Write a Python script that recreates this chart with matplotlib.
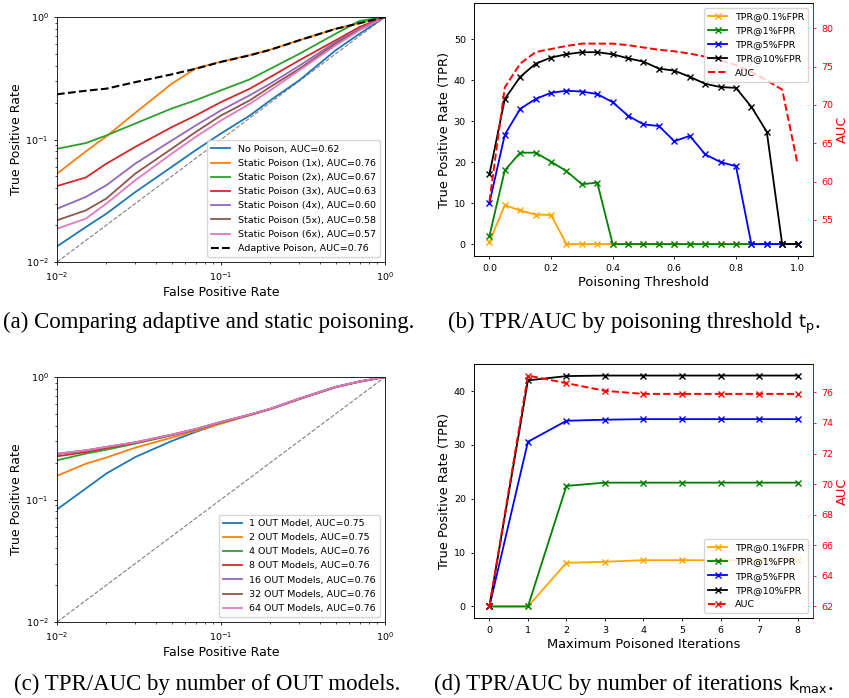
import matplotlib
import matplotlib.pyplot as plt

matplotlib.use("Agg")

W, H = 849, 698

# ---- panel (a): adaptive vs static poisoning ROC ----
fpr_grid = [0.01, 0.015, 0.02, 0.03, 0.05, 0.07, 0.1, 0.15, 0.2, 0.3, 0.5, 0.7, 1.0]
roc_a_labels = ["No Poison, AUC=0.62",
                "Static Poison (1x), AUC=0.76",
                "Static Poison (2x), AUC=0.67",
                "Static Poison (3x), AUC=0.63",
                "Static Poison (4x), AUC=0.60",
                "Static Poison (5x), AUC=0.58",
                "Static Poison (6x), AUC=0.57"]
tpr_no_poison = [0.0134, 0.0193, 0.0248, 0.0372, 0.0597, 0.0817, 0.112, 0.157, 0.209, 0.304, 0.535, 0.73, 1.0]
tpr_static_1x = [0.0526, 0.080, 0.106, 0.165, 0.285, 0.380, 0.432, 0.489, 0.542, 0.647, 0.802, 0.891, 1.0]
tpr_static_2x = [0.084, 0.0935, 0.108, 0.135, 0.179, 0.209, 0.252, 0.31, 0.378, 0.50, 0.73, 0.93, 1.0]
tpr_static_3x = [0.0417, 0.049, 0.0635, 0.087, 0.126, 0.157, 0.202, 0.26, 0.324, 0.443, 0.645, 0.83, 1.0]
tpr_static_4x = [0.0272, 0.034, 0.0423, 0.0635, 0.098, 0.13, 0.173, 0.23, 0.286, 0.40, 0.625, 0.80, 1.0]
tpr_static_5x = [0.0219, 0.0264, 0.033, 0.0526, 0.084, 0.115, 0.157, 0.209, 0.269, 0.378, 0.605, 0.79, 1.0]
tpr_static_6x = [0.0187, 0.0226, 0.030, 0.0465, 0.0765, 0.105, 0.143, 0.196, 0.252, 0.367, 0.587, 0.78, 1.0]
tpr_adaptive = [0.234, 0.25, 0.26, 0.294, 0.34, 0.378, 0.43, 0.487, 0.54, 0.645, 0.80, 0.89, 1.0]

# ---- panel (b): TPR/AUC by poisoning threshold ----
threshold = [0.0, 0.05, 0.1, 0.15, 0.2, 0.25, 0.3, 0.35, 0.4, 0.45, 0.5,
             0.55, 0.6, 0.65, 0.7, 0.75, 0.8, 0.85, 0.9, 0.95, 1.0]
b_tpr01 = [0.5, 9.5, 8.2, 7.2, 7.1, 0, 0, 0, 0, 0, 0, 0, 0, 0, 0, 0, 0, 0, 0, 0, 0]
b_tpr1 = [2.0, 18.0, 22.3, 22.3, 20.1, 17.8, 14.6, 15.0, 0, 0, 0, 0, 0, 0, 0, 0, 0, 0, 0, 0, 0]
b_tpr5 = [10.0, 26.7, 33.0, 35.4, 36.9, 37.4, 37.2, 36.6, 34.6, 31.3, 29.2,
          28.8, 25.1, 26.4, 21.9, 20.0, 19.0, 0, 0, 0, 0]
b_tpr10 = [17.0, 35.4, 40.8, 44.0, 45.5, 46.3, 46.8, 46.8, 46.3, 45.3, 44.5,
           42.8, 42.3, 40.8, 39.1, 38.3, 38.1, 33.5, 27.4, 0, 0]
b_auc = [57.4, 72.3, 75.4, 76.9, 77.3, 77.7, 78.0, 78.0, 78.0, 77.8, 77.5,
         77.2, 77.0, 76.7, 76.3, 75.8, 75.2, 74.3, 73.2, 72.0, 62.3]

# ---- panel (c): number of OUT models ----
roc_c_labels = ["1 OUT Model, AUC=0.75",
                "2 OUT Models, AUC=0.75",
                "4 OUT Models, AUC=0.76",
                "8 OUT Models, AUC=0.76",
                "16 OUT Models, AUC=0.76",
                "32 OUT Models, AUC=0.76",
                "64 OUT Models, AUC=0.76"]
tpr_out1 = [0.083, 0.123, 0.163, 0.222, 0.30, 0.356, 0.42, 0.49, 0.547, 0.66, 0.825, 0.915, 1.0]
tpr_out2 = [0.156, 0.196, 0.22, 0.265, 0.32, 0.362, 0.416, 0.488, 0.546, 0.66, 0.826, 0.916, 1.0]
tpr_out4 = [0.209, 0.237, 0.255, 0.286, 0.334, 0.372, 0.425, 0.49, 0.548, 0.662, 0.828, 0.918, 1.0]
tpr_out8 = [0.225, 0.244, 0.263, 0.29, 0.336, 0.374, 0.428, 0.492, 0.549, 0.664, 0.829, 0.919, 1.0]
tpr_out16 = [0.235, 0.251, 0.268, 0.292, 0.337, 0.375, 0.429, 0.493, 0.55, 0.665, 0.83, 0.92, 1.0]
tpr_out32 = [0.236, 0.252, 0.268, 0.293, 0.338, 0.376, 0.43, 0.494, 0.551, 0.666, 0.83, 0.92, 1.0]
tpr_out64 = [0.237, 0.252, 0.269, 0.293, 0.338, 0.376, 0.43, 0.494, 0.551, 0.666, 0.83, 0.92, 1.0]

# ---- panel (d): max poisoned iterations ----
iterations = [0, 1, 2, 3, 4, 5, 6, 7, 8]
d_tpr01 = [0, 0, 8.1, 8.3, 8.6, 8.6, 8.6, 8.6, 8.7]
d_tpr1 = [0, 0, 22.4, 23.0, 23.0, 23.0, 23.0, 23.0, 23.0]
d_tpr5 = [0, 30.6, 34.5, 34.7, 34.8, 34.8, 34.8, 34.8, 34.8]
d_tpr10 = [0, 42.0, 42.8, 42.9, 42.9, 42.9, 42.9, 42.9, 42.9]
d_auc = [62.0, 77.1, 76.6, 76.1, 75.9, 75.9, 75.9, 75.9, 75.9]

tpr_names = ["TPR@0.1%FPR", "TPR@1%FPR", "TPR@5%FPR", "TPR@10%FPR"]
tpr_colors = ["orange", "green", "blue", "black"]

TICK_FS = 6.8
LEG_FS = 6.8
LW = 1.3
MS = 4.5
LEG_KW = dict(fontsize=LEG_FS, handlelength=2.0, labelspacing=0.55, borderpad=0.45)


def axes_px(fig, x0, x1, y0, y1):
    return fig.add_axes([x0 / W, 1 - y1 / H, (x1 - x0) / W, (y1 - y0) / H])


def style_axes(ax):
    for sp in ax.spines.values():
        sp.set_linewidth(0.6)
    ax.tick_params(labelsize=TICK_FS, width=0.6, length=2.4)
    ax.tick_params(which="minor", width=0.5, length=1.4)


def roc_panel(ax, series, labels, extra=None):
    ax.plot([0.01, 1], [0.01, 1], ls="--", color="gray", lw=0.8)
    for i, (tpr, lab) in enumerate(zip(series, labels)):
        ax.plot(fpr_grid, tpr, color=f"C{i}", lw=LW, label=lab)
    if extra is not None:
        ax.plot(fpr_grid, extra[0], "k--", lw=1.5, label=extra[1])
    ax.set_xscale("log")
    ax.set_yscale("log")
    ax.set_xlim(1e-2, 1)
    ax.set_ylim(1e-2, 1)
    ax.set_xlabel("False Positive Rate", fontsize=9, labelpad=2)
    ax.set_ylabel("True Positive Rate", fontsize=9, labelpad=2)
    style_axes(ax)
    ax.legend(loc="lower right", **LEG_KW)


def tpr_panel(ax, x, tprs, auc, auc_marker):
    handles = []
    for tpr, name, col in zip(tprs, tpr_names, tpr_colors):
        h, = ax.plot(x, tpr, marker="x", color=col, lw=LW, ms=MS, label=name)
        handles.append(h)
    ax.set_ylabel("True Positive Rate (TPR)", fontsize=9.4, labelpad=2)
    style_axes(ax)
    ax2 = ax.twinx()
    h, = ax2.plot(x, auc, ls="--", color="red", lw=1.4, marker=auc_marker,
                  ms=MS, label="AUC")
    handles.append(h)
    ax2.set_ylabel("AUC", color="red", fontsize=9.4, labelpad=2)
    style_axes(ax2)
    ax2.tick_params(axis="y", colors="red")
    ax2.spines["right"].set_color("red")
    return ax2, handles


fig = plt.figure(figsize=(W / 100, H / 100), dpi=100)

# (a)
ax_a = axes_px(fig, 57, 385, 17, 262)
roc_panel(ax_a,
          [tpr_no_poison, tpr_static_1x, tpr_static_2x, tpr_static_3x,
           tpr_static_4x, tpr_static_5x, tpr_static_6x],
          roc_a_labels, extra=(tpr_adaptive, "Adaptive Poison, AUC=0.76"))

# (b)
ax_b = axes_px(fig, 474, 813, 3, 256)
ax_b2, hb = tpr_panel(ax_b, threshold, [b_tpr01, b_tpr1, b_tpr5, b_tpr10], b_auc, None)
ax_b.set_xlabel("Poisoning Threshold", fontsize=9.4, labelpad=2)
ax_b.set_ylim(-2.9, 58.8)
ax_b2.set_ylim(50.3, 83.3)
ax_b2.legend(handles=hb, loc="upper right", **LEG_KW)

# (c)
ax_c = axes_px(fig, 57, 385, 377, 622)
roc_panel(ax_c, [tpr_out1, tpr_out2, tpr_out4, tpr_out8, tpr_out16, tpr_out32, tpr_out64],
          roc_c_labels)

# (d)
ax_d = axes_px(fig, 474, 813, 364, 618)
ax_d2, hd = tpr_panel(ax_d, iterations, [d_tpr01, d_tpr1, d_tpr5, d_tpr10], d_auc, "x")
ax_d.set_xlabel("Maximum Poisoned Iterations", fontsize=9.4, labelpad=2)
ax_d.set_xticks(iterations)
ax_d2.legend(handles=hd, loc="lower right", **LEG_KW)

# captions (serif text, sans-serif symbol with subscript appended after it)
CAP_FS = 16.5
captions = [
    (3, 328, "(a) Comparing adaptive and static poisoning.", None),
    (448, 328, "(b) TPR/AUC by poisoning threshold ", (r"$\mathsf{t_p}$", ".")),
    (14, 690, "(c) TPR/AUC by number of OUT models.", None),
    (434, 690, "(d) TPR/AUC by number of iterations ", (r"$\mathsf{k_{max}}$", ".")),
]
fig.canvas.draw()
renderer = fig.canvas.get_renderer()
for x, y, txt, tail in captions:
    t = fig.text(x / W, 1 - y / H, txt, fontsize=CAP_FS, family="Liberation Serif",
                 va="baseline", ha="left")
    if tail is None:
        continue
    x_end = t.get_window_extent(renderer).x1
    m = fig.text(x_end / W, 1 - y / H, tail[0], fontsize=13, va="baseline", ha="left")
    x_end = m.get_window_extent(renderer).x1
    fig.text(x_end / W, 1 - y / H, tail[1], fontsize=CAP_FS, family="Liberation Serif",
             va="baseline", ha="left")

fig.savefig("out.png", dpi=100)
